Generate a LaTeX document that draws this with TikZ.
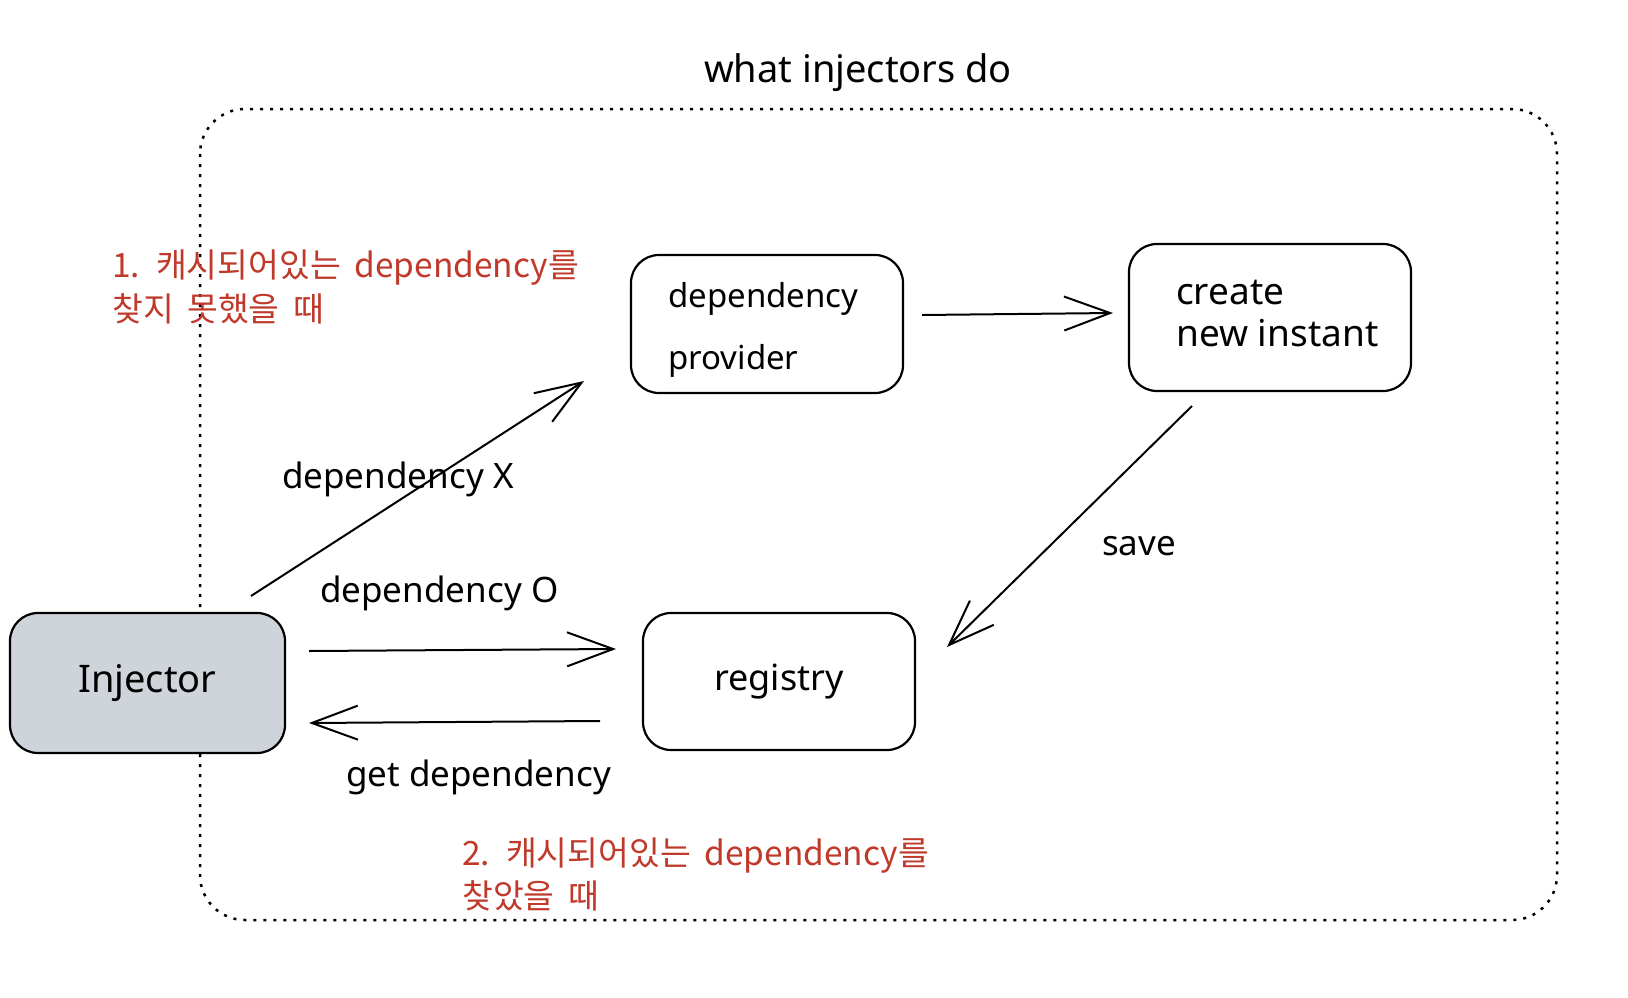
\documentclass[tikz,border=0pt]{standalone}
\usepackage{fontspec}
\setmainfont{Noto Sans}
\newfontfamily\kr[WordSpace=1.8]{Noto Sans CJK KR}
\usetikzlibrary{arrows.meta}
\definecolor{boxgray}{HTML}{CED4DA}
\definecolor{redtxt}{HTML}{C0392B}
\begin{document}
\begin{tikzpicture}[x=1pt,y=-1pt,
  box/.style={draw=black, line width=2.2pt, rounded corners=28pt, inner sep=0pt},
  lbl/.style={font=\fontsize{35}{40}\selectfont, inner sep=0pt, anchor=base west},
  redlbl/.style={font=\kr\fontsize{33.5}{42}\selectfont, text=redtxt, inner sep=0pt, anchor=base west},
  arr/.style={line width=2pt, -{Straight Barb[length=46pt,width=34pt,line width=2pt]}},
  frame/.style={line width=2.5pt, dash pattern=on 3pt off 7pt, rounded corners=45pt}
]
\useasboundingbox (0,0) rectangle (1628,998);
\fill[white] (0,0) rectangle (1628,998);

% dotted frame
\draw[frame] (200,109) rectangle (1557,920);
\node[lbl, anchor=base, font=\fontsize{38}{42}\selectfont] (title) at (858,83) {what injectors do};

% boxes
\node[box, fill=boxgray, minimum width=275pt, minimum height=140pt,
      font=\fontsize{38}{42}\selectfont] (inj) at (147.5,683) {Injector};
\node[box, minimum width=272pt, minimum height=138pt] (prov) at (767,324) {};
\node[box, minimum width=282pt, minimum height=147pt] (create) at (1270,317.5) {};
\node[box, minimum width=272pt, minimum height=137pt,
      font=\fontsize{36}{40}\selectfont] (reg) at (779,681.5) {registry};

% box texts
\node[lbl, font=\fontsize{33}{40}\selectfont] (provt1) at (668,307) {dependency};
\node[lbl, font=\fontsize{33}{40}\selectfont] (provt2) at (668,369) {provider};
\node[lbl, font=\fontsize{37}{40}\selectfont] (createt1) at (1176,304) {create};
\node[lbl, font=\fontsize{37}{40}\selectfont] (createt2) at (1176,346) {new instant};

% arrow end points
\coordinate (a1s) at (922,315);  \coordinate (a1e) at (1113,313);
\coordinate (a2s) at (251,596);  \coordinate (a2e) at (584,381);
\coordinate (a3s) at (309,651);  \coordinate (a3e) at (616,649);
\coordinate (a4s) at (600,721);  \coordinate (a4e) at (309,723);
\coordinate (a5s) at (1192,406); \coordinate (a5e) at (947,647);

\draw[arr] (a1s) -- (a1e);
\draw[arr] (a2s) -- (a2e);
\draw[arr] (a3s) -- (a3e);
\draw[arr] (a4s) -- (a4e);
\draw[arr] (a5s) -- (a5e);

% labels
\node[lbl] (lx) at (282,488) {dependency X};
\node[lbl] (lo) at (320,602) {dependency O};
\node[lbl] (lget) at (346,786) {get dependency};
\node[lbl] (lsave) at (1102,555) {save};

% red notes
\node[redlbl] (r1a) at (112,277) {1. 캐시되어있는 dependency를};
\node[redlbl] (r1b) at (112,321) {찾지 못했을 때};
\node[redlbl] (r2a) at (462,865) {2. 캐시되어있는 dependency를};
\node[redlbl] (r2b) at (462,908) {찾았을 때};
\end{tikzpicture}
\end{document}
